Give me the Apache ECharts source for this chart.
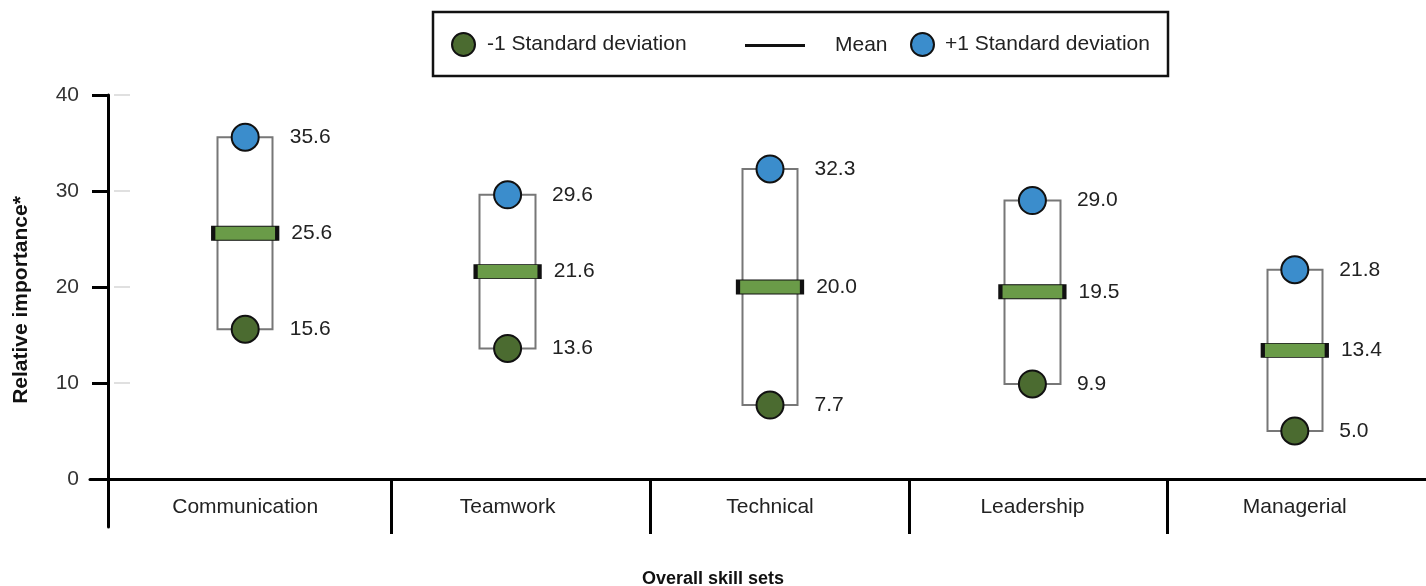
<!DOCTYPE html>
<html>
<head>
<meta charset="utf-8">
<script src="https://cdn.jsdelivr.net/npm/echarts@6/dist/echarts.min.js"></script>
<style>
  html,body{margin:0;padding:0;background:#fff;overflow:hidden;}
  #chart{width:1426px;height:586px;}
</style>
</head>
<body>
<div id="chart"></div>
<script>
  // 技能组数据
  var categories = ['Communication', 'Teamwork', 'Technical', 'Leadership', 'Managerial'];
  var minusSD = [15.6, 13.6, 7.7, 9.9, 5.0];
  var meanVals = [25.6, 21.6, 20.0, 19.5, 13.4];
  var plusSD = [35.6, 29.6, 32.3, 29.0, 21.8];
  var yTicks = [0, 10, 20, 30, 40];

  var font = "'Liberation Sans', Arial, sans-serif";
  var chart = echarts.init(document.getElementById('chart'));

  var boxData = categories.map(function (c, i) {
    return [minusSD[i], plusSD[i], minusSD[i], plusSD[i]];
  });
  var fmt = function (p) { return Number(p.value).toFixed(1); };

  var option = {
    animation: false,
    textStyle: {fontFamily: font},
    title: {
      text: 'Overall skill sets',
      left: 'center',
      top: 565,
      textStyle: {fontSize: 18, fontWeight: 'bold', color: '#111', fontFamily: font}
    },
    graphic: [{
      type: 'rect',
      shape: {x: 433, y: 12, width: 735, height: 64},
      style: {fill: 'none', stroke: '#111', lineWidth: 2.5}
    }],
    legend: [
      {
        data: ['-1 Standard deviation'],
        left: 451, top: 32, padding: 0, itemWidth: 23, itemHeight: 24,
        textStyle: {fontSize: 21, color: '#222', fontFamily: font, padding: [0, 0, 0, 7]}
      },
      {
        data: [{name: 'Mean', icon: 'rect', itemStyle: {color: '#111', borderWidth: 0}}],
        left: 745, top: 35, padding: 0, itemWidth: 60, itemHeight: 3,
        textStyle: {fontSize: 21, color: '#222', fontFamily: font, padding: [0, 0, 0, 25]}
      },
      {
        data: ['+1 Standard deviation'],
        left: 910, top: 32, padding: 0, itemWidth: 23, itemHeight: 24,
        textStyle: {fontSize: 21, color: '#222', fontFamily: font, padding: [0, 0, 0, 6]}
      }
    ],
    grid: [
      {left: 90, right: 0, top: 95, bottom: 59},     // 外框轴线
      {left: 133, right: -6, top: 479, bottom: 52},  // 分隔线
      {left: 114, right: -20, top: 95, bottom: 107}  // 数据
    ],
    xAxis: [
      {
        gridIndex: 0, type: 'value', min: 0, max: 1, z: 10,
        axisLine: {show: true, onZero: true, lineStyle: {color: '#000', width: 3}},
        axisTick: {show: false}, axisLabel: {show: false}, splitLine: {show: false}
      },
      {
        gridIndex: 1, type: 'category', data: categories,
        axisLine: {show: false}, axisTick: {show: false}, axisLabel: {show: false},
        splitLine: {show: true, showMinLine: false, showMaxLine: false,
          lineStyle: {color: '#000', width: 3}}
      },
      {
        gridIndex: 2, type: 'category', data: categories,
        axisLine: {show: false}, axisTick: {show: false},
        axisLabel: {fontSize: 21, color: '#222', margin: 18, fontFamily: font}
      }
    ],
    yAxis: [
      {
        gridIndex: 0, type: 'value', min: -5, max: 40, offset: -18, z: 10,
        axisLine: {show: true, onZero: false, lineStyle: {color: '#000', width: 3}},
        axisTick: {show: false}, axisLabel: {show: false}, splitLine: {show: false}
      },
      {
        gridIndex: 1, type: 'value', min: 0, max: 1, show: false, splitLine: {show: false}
      },
      {
        gridIndex: 2, type: 'value', position: 'left',
        min: yTicks[0], max: yTicks[yTicks.length - 1], interval: 10,
        offset: 6,
        name: 'Relative importance*', nameLocation: 'middle', nameGap: 76,
        nameTextStyle: {fontSize: 21, fontWeight: 'bold', color: '#111', fontFamily: font,
          padding: [0, 26, 0, 0]},
        axisLine: {show: false},
        axisTick: {show: true, length: 16, lineStyle: {color: '#000', width: 3}},
        axisLabel: {fontSize: 21, color: '#333', margin: 29, fontFamily: font},
        splitLine: {show: false}
      },
      {
        gridIndex: 2, type: 'value', position: 'left', offset: 0, z: 0,
        min: 0, max: 40, interval: 10,
        axisLine: {show: false},
        axisTick: {show: true, inside: true, length: 16, lineStyle: {color: '#e0e0e0', width: 2}},
        axisLabel: {show: false}, splitLine: {show: false}
      }
    ],
    series: [
      {
        name: 'range', type: 'candlestick', xAxisIndex: 2, yAxisIndex: 2,
        barWidth: 56,
        itemStyle: {color: 'rgba(0,0,0,0)', color0: 'rgba(0,0,0,0)',
          borderColor: '#777', borderColor0: '#777', borderWidth: 2},
        emphasis: {disabled: true},
        data: boxData
      },
      {
        name: 'Mean', type: 'scatter', xAxisIndex: 2, yAxisIndex: 2,
        symbol: 'rect', symbolSize: [64, 14], z: 3,
        itemStyle: {color: '#6a9b48', borderColor: '#111', borderWidth: 2, opacity: 1},
        label: {show: true, position: 'right', distance: 12, formatter: fmt,
          fontSize: 21, color: '#222', fontFamily: font},
        data: meanVals
      },
      {
        name: '-1 Standard deviation', type: 'scatter', xAxisIndex: 2, yAxisIndex: 2,
        symbol: 'circle', symbolSize: 27, z: 4,
        itemStyle: {color: '#4b6b30', borderColor: '#111', borderWidth: 2, opacity: 1},
        label: {show: true, position: 'right', distance: 30, formatter: fmt,
          fontSize: 21, color: '#222', fontFamily: font},
        data: minusSD
      },
      {
        name: '+1 Standard deviation', type: 'scatter', xAxisIndex: 2, yAxisIndex: 2,
        symbol: 'circle', symbolSize: 27, z: 4,
        itemStyle: {color: '#3b8dcc', borderColor: '#111', borderWidth: 2, opacity: 1},
        label: {show: true, position: 'right', distance: 30, formatter: fmt,
          fontSize: 21, color: '#222', fontFamily: font},
        data: plusSD
      }
    ]
  };

  option && chart.setOption(option);
</script>
</body>
</html>
